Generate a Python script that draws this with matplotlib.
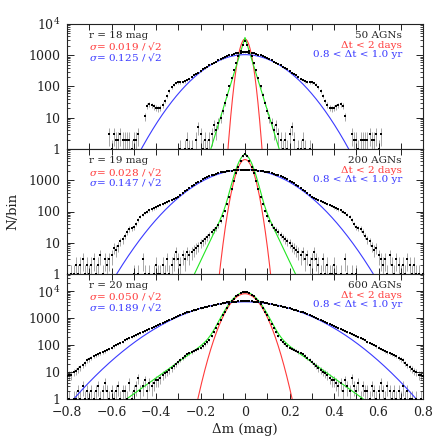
import numpy as np
import matplotlib
matplotlib.use('Agg')
import matplotlib.pyplot as plt
from matplotlib.ticker import MultipleLocator, LogLocator, FuncFormatter, NullFormatter

plt.rcParams['font.family'] = ['DejaVu Serif']
plt.rcParams['mathtext.fontset'] = 'dejavuserif'

# ---------------- data ----------------
dm = np.round(np.arange(-80, 81) * 0.01, 2)   # bin centres (mag)

n18_long = [
    0, 0, 0, 0, 0, 0, 0, 0, 0, 0,
    0, 0, 0, 0, 0, 0, 0, 0, 0, 3,
    1, 3, 2, 2, 3, 2, 2, 2, 2, 1,
    2, 2, 3, 0, 0, 11, 24, 27, 25, 23,
    21, 20, 21, 26, 35, 50, 72, 95, 115, 128,
    135, 135, 138, 145, 160, 180, 200, 225, 250, 280,
    310, 350, 390, 430, 480, 530, 580, 630, 680, 740,
    800, 860, 930, 990, 1050, 1100, 1150, 1190, 1220, 1240,
    1250,
    1240, 1220, 1190, 1150, 1100, 1050, 990, 930, 860, 800,
    740, 680, 630, 580, 530, 480, 430, 390, 350, 310,
    280, 250, 225, 200, 180, 160, 145, 138, 135, 135,
    128, 115, 95, 72, 50, 35, 26, 21, 20, 21,
    23, 25, 27, 24, 11, 0, 0, 3, 2, 2,
    1, 2, 2, 2, 2, 3, 2, 2, 3, 1,
    3, 0, 0, 0, 0, 0, 0, 0, 0, 0,
    0, 0, 0, 0, 0, 0, 0, 0, 0, 0]

n18_short = [
    0, 0, 0, 0, 0, 0, 0, 0, 0, 0,
    0, 0, 0, 0, 0, 0, 0, 0, 0, 0,
    0, 0, 0, 0, 0, 0, 0, 0, 0, 0,
    0, 0, 0, 0, 0, 0, 0, 0, 0, 0,
    0, 0, 0, 0, 0, 0, 0, 0, 0, 0,
    0, 1, 0, 1, 2, 1, 1, 0, 2, 5,
    3, 1, 2, 1, 2, 3, 6, 4, 7, 10,
    17, 30, 55, 100, 190, 330, 560, 950, 1400, 2100,
    2900,
    2100, 1400, 950, 560, 330, 190, 100, 55, 30, 17,
    10, 7, 4, 6, 3, 2, 1, 2, 1, 3,
    5, 2, 0, 1, 1, 2, 1, 0, 1, 0,
    0, 0, 0, 0, 0, 0, 0, 0, 0, 0,
    0, 0, 0, 0, 0, 0, 0, 0, 0, 0,
    0, 0, 0, 0, 0, 0, 0, 0, 0, 0,
    0, 0, 0, 0, 0, 0, 0, 0, 0, 0,
    0, 0, 0, 0, 0, 0, 0, 0, 0, 0]

n19_long = [
    1, 0, 1, 1, 2, 1, 2, 3, 1, 2,
    1, 2, 3, 1, 2, 4, 1, 3, 2, 3,
    4, 7, 6, 8, 11, 13, 17, 22, 28, 30,
    32, 40, 55, 68, 80, 90, 100, 110, 118, 125,
    135, 150, 160, 172, 185, 200, 215, 235, 250, 275,
    300, 330, 380, 440, 500, 570, 640, 720, 800, 880,
    980, 1080, 1170, 1250, 1330, 1420, 1500, 1600, 1700, 1780,
    1850, 1900, 1960, 2000, 2050, 2080, 2120, 2150, 2180, 2200,
    2200,
    2200, 2180, 2150, 2120, 2080, 2050, 2000, 1960, 1900, 1850,
    1780, 1700, 1600, 1500, 1420, 1330, 1250, 1170, 1080, 980,
    880, 800, 720, 640, 570, 500, 440, 380, 330, 300,
    275, 250, 235, 215, 200, 185, 172, 160, 150, 135,
    125, 118, 110, 100, 90, 80, 68, 55, 40, 32,
    30, 28, 22, 17, 13, 11, 8, 6, 7, 4,
    3, 2, 3, 1, 4, 2, 1, 3, 2, 1,
    2, 1, 3, 2, 1, 2, 1, 1, 0, 1]

n19_short = [
    0, 0, 0, 0, 0, 0, 0, 0, 0, 0,
    0, 0, 0, 0, 0, 0, 0, 0, 0, 0,
    0, 0, 0, 0, 0, 0, 0, 0, 0, 0,
    1, 0, 1, 0, 3, 1, 0, 1, 0, 1,
    2, 1, 1, 2, 1, 3, 1, 2, 3, 5,
    3, 2, 4, 3, 5, 4, 5, 6, 7, 8,
    10, 11, 13, 15, 18, 22, 26, 30, 36, 50,
    70, 105, 170, 290, 520, 950, 1650, 2700, 4200, 5800,
    7000,
    5800, 4200, 2700, 1650, 950, 520, 290, 170, 105, 70,
    50, 36, 30, 26, 22, 18, 15, 13, 11, 10,
    8, 7, 6, 5, 4, 5, 3, 4, 2, 3,
    5, 3, 2, 1, 3, 1, 2, 1, 1, 2,
    1, 0, 1, 0, 3, 1, 0, 1, 0, 1,
    0, 0, 0, 0, 0, 0, 0, 0, 0, 0,
    0, 0, 0, 0, 0, 0, 0, 0, 0, 0,
    0, 0, 0, 0, 0, 0, 0, 0, 0, 0]

n20_long = [
    7, 8, 8, 10, 11, 13, 15, 18, 22, 27,
    30, 33, 38, 42, 46, 50, 55, 60, 66, 72,
    80, 90, 100, 110, 122, 135, 150, 165, 180, 195,
    210, 230, 250, 270, 295, 320, 350, 380, 415, 455,
    500, 545, 595, 650, 710, 780, 850, 930, 1010, 1100,
    1200, 1300, 1400, 1510, 1620, 1730, 1840, 1950, 2060, 2180,
    2280, 2400, 2520, 2640, 2760, 2880, 3000, 3120, 3250, 3380,
    3500, 3650, 3800, 3900, 3980, 4050, 4100, 4150, 4180, 4200,
    4200,
    4200, 4180, 4150, 4100, 4050, 3980, 3900, 3800, 3650, 3500,
    3380, 3250, 3120, 3000, 2880, 2760, 2640, 2520, 2400, 2280,
    2180, 2060, 1950, 1840, 1730, 1620, 1510, 1400, 1300, 1200,
    1100, 1010, 930, 850, 780, 710, 650, 595, 545, 500,
    455, 415, 380, 350, 320, 295, 270, 250, 230, 210,
    195, 180, 165, 150, 135, 122, 110, 100, 90, 80,
    72, 66, 60, 55, 50, 46, 42, 38, 33, 30,
    27, 22, 18, 15, 13, 11, 10, 8, 8, 7]

n20_short = [
    0, 1, 0, 1, 1, 2, 1, 3, 1, 2,
    1, 2, 1, 2, 3, 1, 2, 4, 2, 1,
    2, 1, 2, 3, 1, 2, 2, 1, 4, 1,
    2, 3, 6, 2, 3, 5, 2, 4, 3, 4,
    5, 5, 6, 8, 9, 10, 12, 14, 17, 20,
    24, 29, 34, 40, 46, 50, 56, 62, 68, 74,
    80, 90, 105, 125, 160, 210, 300, 430, 620, 880,
    1250, 1750, 2400, 3200, 4200, 5300, 6400, 7400, 8300, 8900,
    9200,
    8900, 8300, 7400, 6400, 5300, 4200, 3200, 2400, 1750, 1250,
    880, 620, 430, 300, 210, 160, 125, 105, 90, 80,
    74, 68, 62, 56, 50, 46, 40, 34, 29, 24,
    20, 17, 14, 12, 10, 9, 8, 6, 5, 5,
    4, 3, 4, 2, 5, 3, 2, 6, 3, 2,
    4, 1, 3, 2, 2, 1, 3, 2, 1, 2,
    4, 2, 1, 3, 2, 1, 2, 1, 2, 1,
    3, 1, 2, 1, 1, 0, 1, 0, 1, 0]

# model curve parameters per panel (r = 18, 19, 20)
red_amp = [3300, 4600, 8000]
red_sig = [0.019, 0.028, 0.050]
blue_amp = [1045, 2200, 4000]
blue_sig = [0.125, 0.147, 0.189]
green_core_amp = [0, 4600, 8000]
green_wing_amp = [3700, 2500, 1350]
green_wing_scale = [0.0187, 0.029, 0.0738]

mag_labels = ['r = 18 mag', 'r = 19 mag', 'r = 20 mag']
red_labels = ['0.019', '0.028', '0.050']
blue_labels = ['0.125', '0.147', '0.189']
agn_labels = ['50 AGNs', '200 AGNs', '600 AGNs']
short_series = [n18_short, n19_short, n20_short]
long_series = [n18_long, n19_long, n20_long]

# ---------------- figure ----------------
RED = '#ff3a3a'
BLUE = '#3a3aff'
GREEN = '#22e622'
TXT = '#222222'

W = 447.0
fig = plt.figure(figsize=(4.47, 4.47), dpi=100)
left = 67 / W
width = 356 / W
height = 125 / W
bottoms = [1 - 149 / W, 1 - 274 / W, 1 - 399 / W]
ytops = [1e4, 1e4, 4.3e4]

xc = np.linspace(-0.8, 0.8, 1601)

def xfmt(v, pos):
    if abs(v) < 1e-9:
        return '0'
    s = '%.1f' % v
    return s.replace('-', '\u2212')

for i in range(3):
    ax = fig.add_axes([left, bottoms[i], width, height])
    ax.set_yscale('log')
    ax.set_xlim(-0.8, 0.8)
    ax.set_ylim(1, ytops[i])

    # model curves
    red = red_amp[i] * np.exp(-xc ** 2 / (2 * red_sig[i] ** 2))
    blue = blue_amp[i] * np.exp(-xc ** 2 / (2 * blue_sig[i] ** 2))
    green = (green_core_amp[i] * np.exp(-xc ** 2 / (2 * red_sig[i] ** 2))
             + green_wing_amp[i] * np.exp(-np.abs(xc) / green_wing_scale[i]))
    ax.plot(xc, red, color=RED, lw=0.8, zorder=2)
    ax.plot(xc, green, color=GREEN, lw=0.8, zorder=2)
    ax.plot(xc, blue, color=BLUE, lw=0.8, zorder=2)

    for ser in (long_series[i], short_series[i]):
        n = np.asarray(ser, dtype=float)
        m = n > 0
        x = dm[m]
        y = n[m]
        lo = y - np.sqrt(y)
        lo = np.where(lo <= 0, 0.3, lo)
        hi = y + np.sqrt(y)
        ax.vlines(x, lo, hi, colors='#a8a8a8', lw=0.7, zorder=1)
        ax.plot(x, y, 's', ms=1.7, mew=0, color='k', zorder=3)

    # ticks
    ax.xaxis.set_major_locator(MultipleLocator(0.2))
    ax.xaxis.set_minor_locator(MultipleLocator(0.1))
    ax.yaxis.set_major_locator(LogLocator(base=10, numticks=10))
    ax.yaxis.set_minor_locator(LogLocator(base=10, subs=np.arange(2, 10), numticks=20))
    ax.yaxis.set_minor_formatter(NullFormatter())

    def yfmt(v, pos, i=i):
        e = int(round(np.log10(v)))
        if e == 4:
            return '' if i == 1 else r'$10^4$'
        return {0: '1', 1: '10', 2: '100', 3: '1000'}.get(e, '')
    ax.yaxis.set_major_formatter(FuncFormatter(yfmt))
    ax.tick_params(which='both', direction='in', top=True, right=True,
                   colors=TXT, labelsize=9)
    ax.tick_params(axis='y', which='major', length=5, width=0.7, pad=5)
    ax.tick_params(axis='y', which='minor', length=2.5, width=0.6)
    ax.tick_params(axis='x', which='major', length=4, width=0.7, pad=5)
    ax.tick_params(axis='x', which='minor', length=4, width=0.7)
    if i < 2:
        ax.tick_params(axis='x', labelbottom=False)
    else:
        ax.xaxis.set_major_formatter(FuncFormatter(xfmt))
    for sp in ax.spines.values():
        sp.set_color(TXT)
        sp.set_linewidth(0.8)

    # annotations
    fs = 7.5
    ax.text(0.062, 0.905, mag_labels[i], transform=ax.transAxes, ha='left',
            va='center', fontsize=fs, color=TXT)
    ax.text(0.062, 0.82, r'$\sigma$= ' + red_labels[i] + ' / \u221a2',
            transform=ax.transAxes, ha='left', va='center', fontsize=fs, color=RED)
    ax.text(0.062, 0.735, r'$\sigma$= ' + blue_labels[i] + ' / \u221a2',
            transform=ax.transAxes, ha='left', va='center', fontsize=fs, color=BLUE)
    ax.text(0.941, 0.905, agn_labels[i], transform=ax.transAxes, ha='right',
            va='center', fontsize=fs, color=TXT)
    ax.text(0.941, 0.83, '\u0394t < 2 days', transform=ax.transAxes, ha='right',
            va='center', fontsize=fs, color=RED)
    ax.text(0.941, 0.755, '0.8 < \u0394t < 1.0 yr', transform=ax.transAxes,
            ha='right', va='center', fontsize=fs, color=BLUE)

fig.text(245 / W, 1 - 430 / W, '\u0394m (mag)', ha='center', va='center',
         fontsize=9.5, color=TXT)
fig.text(13 / W, 1 - 211 / W, 'N/bin', ha='center', va='center', rotation=90,
         fontsize=9.5, color=TXT)

fig.savefig('out.png', dpi=100)
